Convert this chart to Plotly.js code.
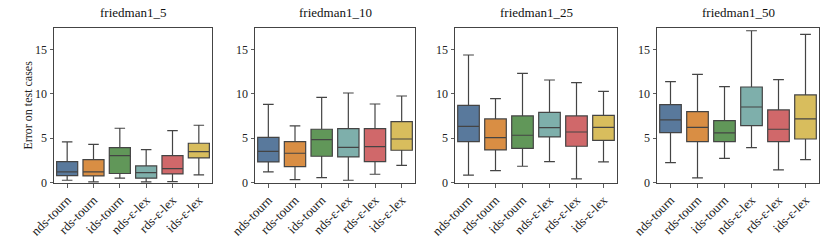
<!DOCTYPE html>
<html>
<head>
<meta charset="utf-8">
<script src="https://cdn.plot.ly/plotly-3.0.1.min.js"></script>
<style>html,body{margin:0;padding:0;background:#fff;}</style>
</head>
<body>
<div id="chart" style="width:830px;height:242px;"></div>
<script>
const methods = ["nds-tourn", "rds-tourn", "ids-tourn", "nds-ε-lex", "rds-ε-lex", "ids-ε-lex"];
const datasets = ["friedman1_5", "friedman1_10", "friedman1_25", "friedman1_50"];
const colors = ["#59799c", "#d98e44", "#619759", "#7eafab", "#d0686a", "#d8bd5d"];

// per dataset, per method: [lower whisker, q1, median, q3, upper whisker]
const f5 = [
  [0.26, 0.79, 1.20, 2.37, 4.59],
  [0.08, 0.75, 1.20, 2.59, 4.32],
  [0.49, 1.02, 3.05, 3.95, 6.13],
  [0.08, 0.49, 1.13, 1.88, 3.72],
  [0.11, 0.98, 1.58, 3.05, 5.86],
  [0.86, 2.78, 3.50, 4.44, 6.47]
];
const f10 = [
  [1.20, 2.33, 3.53, 5.11, 8.83],
  [0.34, 1.80, 3.31, 4.62, 6.39],
  [0.56, 2.97, 4.85, 6.02, 9.62],
  [0.26, 2.89, 3.98, 6.09, 10.11],
  [0.94, 2.37, 4.06, 6.09, 8.87],
  [1.95, 3.65, 4.92, 6.88, 9.77]
];
const f25 = [
  [0.83, 4.62, 6.35, 8.72, 14.40],
  [1.35, 3.68, 5.08, 7.18, 9.47],
  [1.84, 3.87, 5.34, 7.52, 12.33],
  [2.37, 5.15, 6.20, 7.93, 11.58],
  [0.41, 4.10, 5.71, 7.52, 11.28],
  [2.33, 4.77, 6.24, 7.59, 10.30]
];
const f50 = [
  [2.26, 5.64, 7.07, 8.80, 11.39],
  [0.53, 4.62, 6.24, 8.01, 12.22],
  [2.74, 4.62, 5.60, 6.99, 10.83],
  [3.95, 6.43, 8.53, 10.79, 17.14],
  [1.43, 4.62, 6.02, 8.20, 11.62],
  [2.59, 4.92, 7.18, 9.89, 16.73]
];
const allStats = [f5, f10, f25, f50];

const W = 830, H = 242;
const panelsPx = [[54, 212], [255, 415], [455, 617], [657, 819]];
const yTop = 28, yBot = 183;
const font = "Liberation Serif";

const traces = [];
const layout = {
  width: W, height: H, autosize: false,
  margin: {l: 0, r: 0, t: 0, b: 0},
  paper_bgcolor: "#ffffff", plot_bgcolor: "#ffffff",
  showlegend: false,
  font: {family: font, size: 11, color: "#222"},
  annotations: []
};

allStats.forEach((stats, p) => {
  const sfx = p === 0 ? "" : String(p + 1);
  methods.forEach((m, i) => {
    const s = stats[i];
    traces.push({
      type: "box",
      x: [m],
      lowerfence: [s[0]], q1: [s[1]], median: [s[2]], q3: [s[3]], upperfence: [s[4]],
      fillcolor: colors[i],
      line: {color: "#444444", width: 1.2},
      width: 0.8,
      whiskerwidth: 0.5,
      boxpoints: false,
      hoverinfo: "skip",
      xaxis: "x" + sfx, yaxis: "y" + sfx
    });
  });
  const [x0, x1] = panelsPx[p];
  layout["xaxis" + sfx] = {
    domain: [x0 / W, x1 / W],
    anchor: "y" + sfx,
    type: "category",
    categoryorder: "array", categoryarray: methods,
    range: [-0.5, 5.5],
    tickangle: -45,
    ticks: "outside", ticklen: 3.5, tickwidth: 0.8, tickcolor: "#333",
    showline: true, linecolor: "#444", linewidth: 1, mirror: true,
    showgrid: false, zeroline: false,
    tickfont: {family: font, size: 13, color: "#222"},
    automargin: false
  };
  layout["yaxis" + sfx] = {
    domain: [(H - yBot) / H, (H - yTop) / H],
    anchor: "x" + sfx,
    range: [-0.05, 17.45],
    tickvals: [0, 5, 10, 15],
    ticktext: ["0", "5", "10", "15"],
    ticks: "outside", ticklen: 3.5, tickwidth: 0.8, tickcolor: "#333",
    showline: true, linecolor: "#444", linewidth: 1, mirror: true,
    showgrid: false, zeroline: false,
    tickfont: {family: font, size: 12, color: "#222"},
    automargin: false
  };
  layout.annotations.push({
    text: datasets[p], xref: "paper", yref: "paper",
    x: (x0 + x1) / 2 / W, y: (H - yTop + 6) / H,
    xanchor: "center", yanchor: "bottom", showarrow: false,
    font: {family: font, size: 13, color: "#111"}
  });
});

layout.annotations.push({
  text: "Error on test cases", xref: "paper", yref: "paper",
  x: 27 / W, y: (H - (yTop + yBot) / 2) / H,
  xanchor: "center", yanchor: "middle", textangle: -90, showarrow: false,
  font: {family: font, size: 12, color: "#222"}
});

Plotly.newPlot("chart", traces, layout, {displayModeBar: false, staticPlot: true});
</script>
</body>
</html>
